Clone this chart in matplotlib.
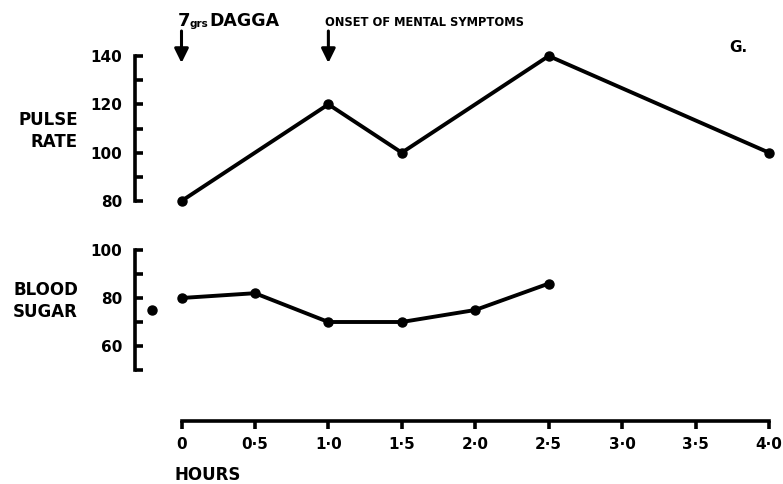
import matplotlib
matplotlib.use("Agg")
import matplotlib.pyplot as plt

# ---- data ----
pulse_hours = [0, 1.0, 1.5, 2.5, 4.0]
pulse_rate = [80, 120, 100, 140, 100]
sugar_hours = [0, 0.5, 1.0, 1.5, 2.0, 2.5]
blood_sugar = [80, 82, 70, 70, 75, 86]
pre_hours = [-0.2]
pre_sugar = [75]
x_ticks = [0, 0.5, 1.0, 1.5, 2.0, 2.5, 3.0, 3.5, 4.0]
x_labels = ["0", "0·5", "1·0", "1·5", "2·0", "2·5", "3·0", "3·5", "4·0"]
pulse_major = [80, 100, 120, 140]
pulse_minor = [90, 110, 130]
sugar_major = [60, 80, 100]
sugar_minor = [50, 70, 90]

plt.rcParams['font.family'] = ['DejaVu Sans']
plt.rcParams['font.weight'] = 'bold'

W, H = 783, 484
fig = plt.figure(figsize=(W / 100, H / 100), dpi=100)
fig.patch.set_facecolor('white')


def ax_px(l, t, r, b):
    return fig.add_axes([l / W, 1 - b / H, (r - l) / W, (b - t) / H])


X0, X4 = 181.5, 769.0
PXH = (X4 - X0) / 4.0
LEFT, RIGHT = 135, 781
XLIM = (-(X0 - LEFT) / PXH, (RIGHT - X0) / PXH)

LW_SP = 2.6
LW_D = 2.8
MS = 6.5


def style_y(ax, lo, hi, major, minor):
    for s in ['top', 'right', 'bottom']:
        ax.spines[s].set_visible(False)
    ax.spines['left'].set_linewidth(LW_SP)
    ax.spines['left'].set_bounds(lo, hi)
    ax.spines['left'].set_capstyle('projecting')
    ax.set_xticks([])
    ax.set_yticks(major)
    ax.set_yticks(minor, minor=True)
    ax.tick_params(axis='y', which='both', direction='in', length=5.5,
                   width=LW_SP, pad=9, labelsize=11)
    ax.tick_params(axis='y', which='minor', labelleft=False)
    for lab in ax.get_yticklabels():
        lab.set_fontweight('bold')
    ax.set_facecolor('none')
    ax.set_xlim(*XLIM)


# ---- pulse ----
axp = ax_px(LEFT, 40, RIGHT, 210)
pp = (201 - 56) / 60.0
axp.set_ylim(80 - 9 / pp, 140 + 16 / pp)
axp.plot(pulse_hours, pulse_rate, color='black', lw=LW_D, marker='o',
         ms=MS, solid_joinstyle='miter', clip_on=False)
style_y(axp, 80, 140, pulse_major, pulse_minor)

# ---- blood sugar ----
axs = ax_px(LEFT, 240, RIGHT, 380)
sp = 2.4
axs.set_ylim(100 - 130 / sp, 100 + 10 / sp)
axs.plot(sugar_hours, blood_sugar, color='black', lw=LW_D, marker='o',
         ms=MS, clip_on=False)
axs.plot(pre_hours, pre_sugar, linestyle='none', color='black', marker='o',
         ms=MS, clip_on=False)
style_y(axs, 50, 100, sugar_major, sugar_minor)

# ---- hours axis ----
axx = ax_px(LEFT, 395, RIGHT, 421)
for s in ['top', 'right', 'left']:
    axx.spines[s].set_visible(False)
axx.spines['bottom'].set_linewidth(LW_SP)
axx.spines['bottom'].set_bounds(0, 4.0)
axx.set_xlim(*XLIM)
axx.set_yticks([])
axx.set_xticks(x_ticks)
axx.set_xticklabels(x_labels, fontweight='bold')
axx.tick_params(axis='x', direction='out', length=5.5, width=LW_SP,
                pad=6, labelsize=11)
axx.set_facecolor('none')


def ftext(x, y, s, **kw):
    fig.text(x / W, 1 - y / H, s, **kw)


ftext(78, 131, "PULSE\nRATE", ha='right', va='center', fontsize=12,
      fontweight='bold', multialignment='right', linespacing=1.35)
ftext(78, 301, "BLOOD\nSUGAR", ha='right', va='center', fontsize=12,
      fontweight='bold', multialignment='right', linespacing=1.35)
ftext(175, 475, "HOURS", ha='left', va='center', fontsize=12,
      fontweight='bold')
ftext(738, 47, "G.", ha='center', va='center', fontsize=11, fontweight='bold')

ftext(178, 26, "7", ha='left', va='baseline', fontsize=13, fontweight='bold')
ftext(190, 27, "grs", ha='left', va='baseline', fontsize=7.5, fontweight='bold')
ftext(209, 26, "DAGGA", ha='left', va='baseline', fontsize=12.5,
      fontweight='bold')
ftext(325, 22, "ONSET OF MENTAL SYMPTOMS", ha='left', va='center',
      fontsize=8.3, fontweight='bold')

# arrows
def frac(p):
    return (210 - p) / 170.0

for xa in [0, 1.0]:
    axp.annotate("", xy=(xa, frac(63)), xycoords=('data', 'axes fraction'),
                 xytext=(xa, frac(31)), textcoords=('data', 'axes fraction'),
                 arrowprops=dict(arrowstyle='-|>,head_length=0.85,head_width=0.42',
                                 lw=2.2, color='black', shrinkA=0, shrinkB=0,
                                 mutation_scale=10),
                 annotation_clip=False)

fig.savefig("out.png", dpi=100, facecolor='white')
